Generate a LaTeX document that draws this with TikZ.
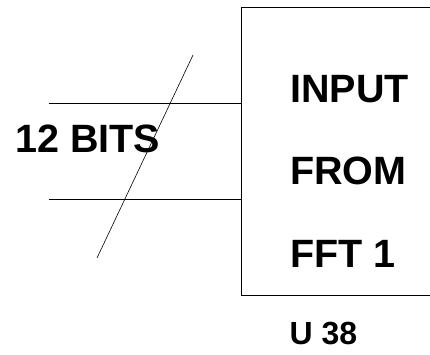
\documentclass[tikz,border=0pt]{standalone}
\usepackage{fontspec}
\setmainfont{Liberation Sans}
\usetikzlibrary{positioning, calc}

\begin{document}
\begin{tikzpicture}[x=1pt, y=-1pt, big/.style={font=\bfseries\fontsize{39.5}{47}\selectfont, inner sep=0pt, anchor=base west}]
		\useasboundingbox (0,0) rectangle (430,355);
		\node[draw, line width=0.9pt, minimum width=400pt, minimum height=288pt, anchor=north west] at (240.5,7) (box) {};
		\node[big] at (290,103) (inp) {INPUT};
		\node[big] at (290,185) (from) {FROM};
		\node[big] at (290,267) (fft) {FFT 1};
		\node[big] at (15,152.5) (bits) {12 BITS};
		\node[big, font=\bfseries\fontsize{32}{38}\selectfont] at (289.5,344) (u) {U 38};
		\coordinate (a) at (49,103);
		\coordinate (b) at (49,199);
		\coordinate (s1) at (193,55);
		\coordinate (s2) at (97,258);
		\foreach \from in {a,b}
			\draw[line width=0.7pt] (\from) -- (\from -| box.west);
		\draw[line width=0.6pt] (s1) -- (s2);
	\end{tikzpicture}
\end{document}
